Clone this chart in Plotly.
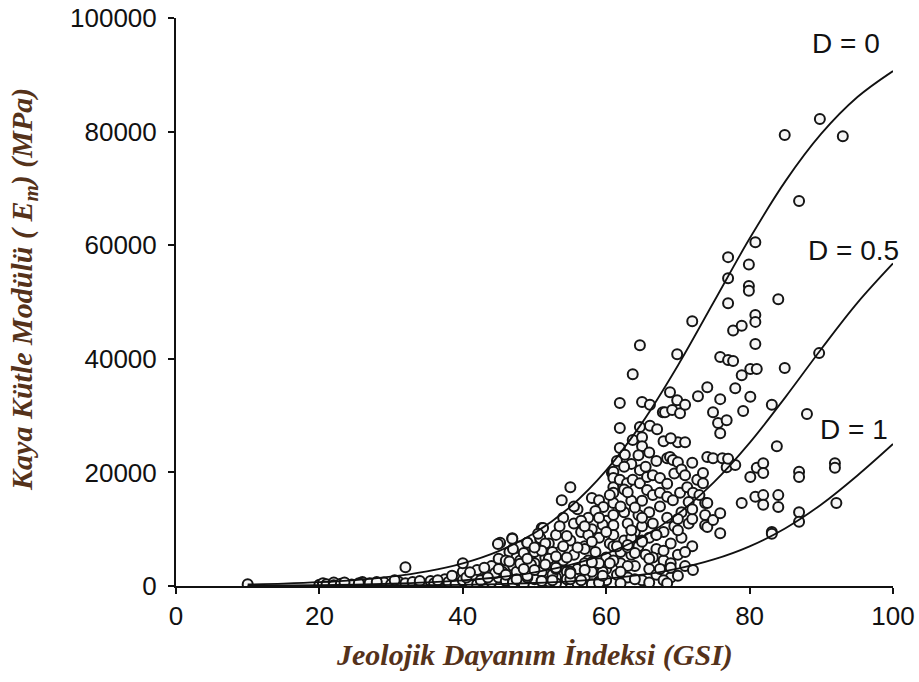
import plotly.graph_objects as go

# ---- data ----
curve_gsi = [10, 15, 20, 25, 30, 35, 40, 45, 50, 55, 60, 65, 70, 75, 80, 85, 90, 95, 100]
curve_d0 = [271, 426, 669, 1050, 1645, 2570, 3985, 6140, 9340, 13960, 20360, 28720,
            38830, 50000, 61170, 71280, 79630, 86040, 90660]
curve_d05 = [65, 102, 162, 255, 400, 629, 987, 1543, 2400, 3710, 5690, 8590,
             12700, 18230, 25190, 33260, 41730, 49800, 56780]
curve_d1 = [14, 22, 35, 55, 86, 136, 213, 335, 525, 822, 1285, 1992,
            3070, 4670, 6980, 10180, 14360, 19420, 25000]

curve_labels = ["D = 0", "D = 0.5", "D = 1"]

gsi_values = [
    10, 20, 20.5, 21, 22, 22, 23, 24.5, 26, 26, 27, 28, 29, 30, 31, 32, 32, 33, 34, 35,
    35.5, 36, 37, 37.5, 38, 39, 39, 40, 40, 41, 41.5, 42, 42, 43, 43.5, 44, 44, 45, 45, 45.2,
    45.5, 46, 46.5, 46.9, 47, 47.5, 48, 48, 48.5, 49, 49, 49.5, 50, 50, 50.5, 50.8, 51, 51, 51.5, 52,
    52, 52.5, 53, 53, 53.5, 53.8, 54, 54, 54.5, 55, 55, 55, 55.5, 55.5, 56, 56, 56.5, 57, 57, 57.5,
    57.5, 58, 58, 58, 58.5, 59, 59, 59, 59.6, 60, 60, 60, 60.5, 60.8, 61, 61, 61, 61, 61, 61,
    61, 61, 61.5, 61.9, 61.9, 61.9, 61.9, 62, 62, 62.5, 62.5, 62.6, 62.9, 63, 63, 63.5, 63.5, 63.7, 63.7, 63.7,
    64, 64, 64.5, 64.5, 64.7, 64.7, 64.7, 64.7, 65, 65, 65, 65, 65, 65, 65.5, 65.7, 65.7, 66, 66, 66,
    66.1, 66.1, 66.5, 66.5, 67, 67, 67.1, 67.5, 67.5, 67.9, 68, 68, 68.2, 68.5, 68.5, 68.5, 68.9, 68.9, 69, 69,
    69.2, 69.3, 69.3, 69.5, 69.9, 69.9, 70, 70, 70, 70.3, 70.3, 70.5, 70.5, 71, 71, 71, 71.3, 71.5, 72, 72,
    72.1, 72.1, 72.7, 72.8, 73.5, 73.5, 73.8, 73.8, 73.8, 74.1, 74.1, 74.1, 74.1, 74.9, 74.9, 74.9, 75.6, 75.9, 75.9, 75.9,
    75.9, 75.9, 76.2, 76.8, 76.8, 77, 77, 77, 77, 77, 77.7, 77.7, 78, 78, 78.9, 78.9, 78.9, 79.1, 79.9, 79.9,
    79.9, 80.1, 80.1, 80.1, 80.8, 80.8, 80.8, 80.8, 80.8, 81, 81, 81.9, 81.9, 81.9, 81.9, 83.1, 83.1, 83.1, 83.8, 84,
    84, 84, 84.9, 84.9, 86.9, 86.9, 86.9, 86.9, 86.9, 88, 89.7, 89.8, 91.9, 91.9, 92.1, 93, 72,
    44.9, 46.9, 49, 50.8, 51.2, 40, 56, 58, 60, 62, 64, 66, 68, 67.5, 52.5, 54.5, 57, 59.5, 63.5, 66.5,
    48, 50, 53, 55, 57, 59, 61, 63, 65, 67, 69, 47, 49, 51, 53, 55, 57, 59, 61, 63,
    46, 47.5, 48.5, 49.5, 50.5, 51.5, 52.5, 53.5, 54.5, 55.5, 56.5, 57.5, 58.5, 59.5, 60.5, 61.5, 62.5, 63.5, 64.5, 65.5,
    66.5, 67.5, 68.5, 69.5, 70.5, 71.5,
    47, 49, 51, 53, 55, 56.5, 58, 59.5, 60.5, 62, 63, 64, 65, 66, 67, 68, 69, 70, 71, 72, 68.5, 70,
    56, 57, 58, 59, 60, 61.5, 62.5, 63, 64, 65, 66, 67, 68, 69, 70, 71, 72, 73, 62, 63.5,
    38.5, 40.5, 41, 42.5, 43, 44.5, 45, 46, 46.5, 47.5, 48, 49, 50, 51, 52, 53, 54, 54.5, 43.5, 47,
    52.5, 50, 48.5, 51.5, 36.5, 34, 30.5, 28, 25.5, 23.5
]
em_values = [
    300, 200, 500, 300, 600, 150, 400, 250, 700, 300, 500, 400, 600, 300, 800, 3300, 500, 700, 400, 200,
    900, 500, 300, 1200, 700, 1500, 400, 2500, 1000, 600, 1800, 2800, 300, 1200, 2000, 700, 3500, 1500, 4800, 7600,
    2500, 900, 6000, 8400, 3500, 5000, 1800, 7000, 400, 2800, 7600, 5500, 1200, 4000, 6500, 8400, 10200, 2500, 5000, 800,
    7500, 3500, 9000, 1500, 6000, 15100, 12000, 4500, 2500, 17400, 8000, 600, 11000, 5500, 13500, 3000, 9500, 7000, 1500, 12000,
    4500, 15500, 10000, 2500, 6000, 15100, 8500, 800, 13900, 11500, 5000, 3000, 7500, 19900, 20100, 19000, 17400, 16400, 14600, 12500,
    10700, 9000, 2000, 32200, 27800, 24300, 18700, 6000, 4000, 13000, 8000, 23100, 18100, 11000, 1500, 15000, 5500, 37300, 25700, 18700,
    9500, 3500, 12500, 7000, 42400, 28000, 20400, 18100, 32400, 26200, 24600, 15000, 10500, 1000, 5500, 19200, 16900, 13000, 8500, 3000,
    28200, 31900, 16000, 11000, 6500, 2000, 27600, 16400, 14000, 30600, 9500, 4500, 30600, 22500, 15700, 12000, 34100, 22700, 7500, 1500,
    31000, 22200, 15100, 10500, 40800, 32700, 25300, 21800, 5500, 30400, 16400, 13000, 8500, 31900, 25300, 3500, 17400, 11000, 21700, 7000,
    16400, 2800, 18700, 33400, 19900, 18100, 14600, 12500, 10700, 35000, 22700, 14600, 10400, 30600, 22500, 11600, 28700, 40300, 32900, 26900,
    12800, 9300, 22500, 29200, 20900, 57900, 54200, 49800, 39800, 22400, 45000, 39600, 34800, 21300, 45800, 37100, 14600, 30800, 56600, 52800,
    52000, 38200, 33300, 19200, 60500, 47700, 46500, 42600, 15700, 38200, 20800, 21600, 19900, 16000, 14300, 31900, 9500, 9200, 24600, 50500,
    16000, 13900, 79400, 38400, 67800, 20100, 19200, 13000, 11300, 30300, 41000, 82200, 21600, 20800, 14600, 79200, 46600,
    7400, 8300, 7600, 8400, 10200, 4000, 500, 300, 1000, 500, 1200, 600, 1000, 3000, 2000, 1200, 4000, 2500, 8500, 5000,
    4500, 6000, 3000, 2500, 6500, 4000, 7000, 3500, 8000, 9000, 4000, 1000, 1500, 900, 500, 1200, 2800, 600, 4500, 6800,
    4500, 2500, 5800, 3800, 9200, 7500, 6000, 10500, 8800, 14000, 11500, 9000, 13200, 10800, 16000, 7000, 17000, 21500, 23000, 21000,
    19500, 19000, 18000, 19800, 20500, 14800,
    600, 1800, 900, 3200, 2200, 1000, 4200, 1800, 4000, 2500, 7200, 5800, 7800, 4800, 9000, 6200, 3200, 9800, 6000, 11800, 500, 1800,
    6800, 10500, 7800, 12000, 9500, 22000, 21000, 16500, 13800, 12000, 23500, 22000, 25500, 26000, 11800, 19500, 13500, 16000, 14000, 9800,
    1800, 1500, 2400, 1000, 3200, 2300, 3000, 2000, 4300, 1200, 3900, 4800, 2800, 6200, 4800, 5200, 7000, 5000, 1500, 6500,
    1000, 6800, 3000, 3800, 1000, 900, 1000, 700, 500, 600
]

title_color = "#55321a"

fig = go.Figure()

fig.add_trace(go.Scatter(
    x=gsi_values, y=em_values, mode="markers",
    marker=dict(symbol="circle", size=10, color="#f6f6f6",
                line=dict(color="#151515", width=2)),
    showlegend=False, hoverinfo="skip"))

for yv in (curve_d0, curve_d05, curve_d1):
    fig.add_trace(go.Scatter(
        x=curve_gsi, y=yv, mode="lines",
        line=dict(color="#111111", width=1.8, shape="spline"),
        showlegend=False, hoverinfo="skip"))

label_pos = [(93.5, 95500), (94.5, 59000), (94.5, 27500)]
for txt, (lx, ly) in zip(curve_labels, label_pos):
    fig.add_annotation(x=lx, y=ly, text=txt, showarrow=False,
                       font=dict(family="Liberation Sans, Arial", size=28, color="#111111"))

fig.add_annotation(xref="paper", yref="paper", x=-0.212, y=0.5 + 0.023,
                   xanchor="center", yanchor="middle",
                   text="<i><b>Kaya Kütle Modülü ( E<sub>m</sub>) (MPa)</b></i>",
                   textangle=-90, showarrow=False,
                   font=dict(family="Liberation Serif, Times New Roman", size=30, color=title_color))
fig.add_annotation(xref="paper", yref="paper", x=0.5, y=-0.122,
                   xanchor="center", yanchor="middle",
                   text="<i><b>Jeolojik Dayanım İndeksi (GSI)</b></i>",
                   showarrow=False,
                   font=dict(family="Liberation Serif, Times New Roman", size=30, color=title_color))

axis_common = dict(showgrid=False, zeroline=False, showline=True, linecolor="#111111",
                   linewidth=2, ticks="outside", ticklen=6, tickwidth=2, tickcolor="#111111",
                   automargin=False,
                   tickfont=dict(family="Liberation Sans, Arial", size=26, color="#111111"))

fig.update_xaxes(range=[0, 100], tickvals=[0, 20, 40, 60, 80, 100], **axis_common)
fig.update_yaxes(range=[0, 100000], tickvals=[0, 20000, 40000, 60000, 80000, 100000],
                 tickformat="d", ticklabelstandoff=6, **axis_common)

fig.update_layout(width=919, height=682, margin=dict(l=176, r=26, t=18, b=96),
                  plot_bgcolor="white", paper_bgcolor="white")

fig.write_html("out.html")
